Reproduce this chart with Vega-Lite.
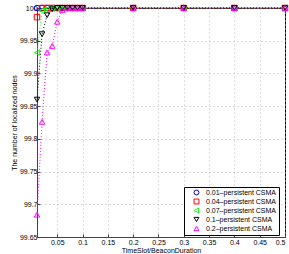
{
  "$schema": "https://vega.github.io/schema/vega-lite/v6.json",
  "autosize": {"type": "none"},
  "width": 248,
  "height": 229,
  "padding": {"left": 37, "top": 8, "right": 4, "bottom": 17},
  "config": {
    "view": {"stroke": "#000000", "strokeWidth": 1},
    "font": "Liberation Sans",
    "axis": {
      "labelFont": "Liberation Sans",
      "titleFont": "Liberation Sans",
      "labelFontSize": 7,
      "titleFontSize": 7,
      "titleFontWeight": "normal",
      "labelColor": "#000000",
      "titleColor": "#000000",
      "domainColor": "#444444",
      "tickColor": "#444444",
      "gridColor": "#bbbbbb",
      "gridDash": [1, 3],
      "gridWidth": 1,
      "tickSize": -3,
      "labelPadding": 5
    },
    "legend": {
      "orient": "none",
      "legendX": 147,
      "legendY": 179,
      "padding": 2,
      "strokeColor": "#000000",
      "fillColor": "#ffffff",
      "labelFont": "Liberation Sans",
      "labelFontSize": 7,
      "labelColor": "#000000",
      "symbolSize": 24,
      "symbolStrokeWidth": 1,
      "symbolOffset": 7,
      "rowPadding": 0,
      "labelOffset": 6,
      "labelLimit": 120
    }
  },
  "data": {
    "values": [
      {"s": "0.01–persistent CSMA", "x": 0.01, "y": 100},
      {"s": "0.01–persistent CSMA", "x": 0.02, "y": 100},
      {"s": "0.01–persistent CSMA", "x": 0.03, "y": 100},
      {"s": "0.01–persistent CSMA", "x": 0.04, "y": 100},
      {"s": "0.01–persistent CSMA", "x": 0.05, "y": 100},
      {"s": "0.01–persistent CSMA", "x": 0.06, "y": 100},
      {"s": "0.01–persistent CSMA", "x": 0.07, "y": 100},
      {"s": "0.01–persistent CSMA", "x": 0.08, "y": 100},
      {"s": "0.01–persistent CSMA", "x": 0.09, "y": 100},
      {"s": "0.01–persistent CSMA", "x": 0.1, "y": 100},
      {"s": "0.01–persistent CSMA", "x": 0.2, "y": 100},
      {"s": "0.01–persistent CSMA", "x": 0.3, "y": 100},
      {"s": "0.01–persistent CSMA", "x": 0.4, "y": 100},
      {"s": "0.01–persistent CSMA", "x": 0.5, "y": 100},
      {"s": "0.04–persistent CSMA", "x": 0.01, "y": 99.986},
      {"s": "0.04–persistent CSMA", "x": 0.02, "y": 100},
      {"s": "0.04–persistent CSMA", "x": 0.03, "y": 100},
      {"s": "0.04–persistent CSMA", "x": 0.04, "y": 100},
      {"s": "0.04–persistent CSMA", "x": 0.05, "y": 100},
      {"s": "0.04–persistent CSMA", "x": 0.06, "y": 100},
      {"s": "0.04–persistent CSMA", "x": 0.07, "y": 100},
      {"s": "0.04–persistent CSMA", "x": 0.08, "y": 100},
      {"s": "0.04–persistent CSMA", "x": 0.09, "y": 100},
      {"s": "0.04–persistent CSMA", "x": 0.1, "y": 100},
      {"s": "0.04–persistent CSMA", "x": 0.2, "y": 100},
      {"s": "0.04–persistent CSMA", "x": 0.3, "y": 100},
      {"s": "0.04–persistent CSMA", "x": 0.4, "y": 100},
      {"s": "0.04–persistent CSMA", "x": 0.5, "y": 100},
      {"s": "0.07–persistent CSMA", "x": 0.01, "y": 99.932},
      {"s": "0.07–persistent CSMA", "x": 0.02, "y": 99.996},
      {"s": "0.07–persistent CSMA", "x": 0.03, "y": 99.998},
      {"s": "0.07–persistent CSMA", "x": 0.04, "y": 100},
      {"s": "0.07–persistent CSMA", "x": 0.05, "y": 100},
      {"s": "0.07–persistent CSMA", "x": 0.06, "y": 100},
      {"s": "0.07–persistent CSMA", "x": 0.07, "y": 100},
      {"s": "0.07–persistent CSMA", "x": 0.08, "y": 100},
      {"s": "0.07–persistent CSMA", "x": 0.09, "y": 100},
      {"s": "0.07–persistent CSMA", "x": 0.1, "y": 100},
      {"s": "0.07–persistent CSMA", "x": 0.2, "y": 100},
      {"s": "0.07–persistent CSMA", "x": 0.3, "y": 100},
      {"s": "0.07–persistent CSMA", "x": 0.4, "y": 100},
      {"s": "0.07–persistent CSMA", "x": 0.5, "y": 100},
      {"s": "0.1–persistent CSMA", "x": 0.01, "y": 99.86},
      {"s": "0.1–persistent CSMA", "x": 0.02, "y": 99.96},
      {"s": "0.1–persistent CSMA", "x": 0.03, "y": 99.989},
      {"s": "0.1–persistent CSMA", "x": 0.04, "y": 99.998},
      {"s": "0.1–persistent CSMA", "x": 0.05, "y": 100},
      {"s": "0.1–persistent CSMA", "x": 0.06, "y": 100},
      {"s": "0.1–persistent CSMA", "x": 0.07, "y": 100},
      {"s": "0.1–persistent CSMA", "x": 0.08, "y": 100},
      {"s": "0.1–persistent CSMA", "x": 0.09, "y": 100},
      {"s": "0.1–persistent CSMA", "x": 0.1, "y": 100},
      {"s": "0.1–persistent CSMA", "x": 0.2, "y": 100},
      {"s": "0.1–persistent CSMA", "x": 0.3, "y": 100},
      {"s": "0.1–persistent CSMA", "x": 0.4, "y": 100},
      {"s": "0.1–persistent CSMA", "x": 0.5, "y": 100},
      {"s": "0.2–persistent CSMA", "x": 0.01, "y": 99.684},
      {"s": "0.2–persistent CSMA", "x": 0.02, "y": 99.826},
      {"s": "0.2–persistent CSMA", "x": 0.03, "y": 99.932},
      {"s": "0.2–persistent CSMA", "x": 0.04, "y": 99.942},
      {"s": "0.2–persistent CSMA", "x": 0.05, "y": 99.979},
      {"s": "0.2–persistent CSMA", "x": 0.06, "y": 99.997},
      {"s": "0.2–persistent CSMA", "x": 0.07, "y": 100},
      {"s": "0.2–persistent CSMA", "x": 0.08, "y": 100},
      {"s": "0.2–persistent CSMA", "x": 0.09, "y": 100},
      {"s": "0.2–persistent CSMA", "x": 0.1, "y": 100},
      {"s": "0.2–persistent CSMA", "x": 0.2, "y": 100},
      {"s": "0.2–persistent CSMA", "x": 0.3, "y": 100},
      {"s": "0.2–persistent CSMA", "x": 0.4, "y": 100},
      {"s": "0.2–persistent CSMA", "x": 0.5, "y": 100}
    ]
  },
  "encoding": {
    "x": {
      "field": "x", "type": "quantitative",
      "scale": {"domain": [0.01, 0.5], "nice": false, "zero": false},
      "axis": {"values": [0.05, 0.1, 0.15, 0.2, 0.25, 0.3, 0.35, 0.4, 0.45, 0.5], "format": "~g", "title": "TimeSlot/BeaconDuration", "titleColor": "#000000", "titlePadding": 1, "labelPadding": 4}
    },
    "y": {
      "field": "y", "type": "quantitative",
      "scale": {"domain": [99.65, 100], "nice": false, "zero": false},
      "axis": {"values": [99.65, 99.7, 99.75, 99.8, 99.85, 99.9, 99.95, 100], "format": "~g", "title": "The number of localized nodes", "titleColor": "#000000", "titlePadding": 2, "labelPadding": 3}
    },
    "color": {
      "field": "s", "type": "nominal",
      "title": null,
      "scale": {"domain": ["0.01–persistent CSMA", "0.04–persistent CSMA", "0.07–persistent CSMA", "0.1–persistent CSMA", "0.2–persistent CSMA"], "range": ["#0000ff", "#ff0000", "#00ff00", "#000000", "#ff00ff"]}
    }
  },
  "layer": [
    {
      "mark": {"type": "line", "strokeDash": [1, 2], "strokeWidth": 1, "clip": false}
    },
    {
      "mark": {"type": "point", "filled": false, "size": 30, "strokeWidth": 1, "opacity": 1, "clip": false},
      "encoding": {
        "shape": {
          "field": "s", "type": "nominal",
          "title": null,
          "scale": {"domain": ["0.01–persistent CSMA", "0.04–persistent CSMA", "0.07–persistent CSMA", "0.1–persistent CSMA", "0.2–persistent CSMA"], "range": ["circle", "square", "triangle-left", "triangle-down", "triangle-up"]}
        }
      }
    }
  ]
}
